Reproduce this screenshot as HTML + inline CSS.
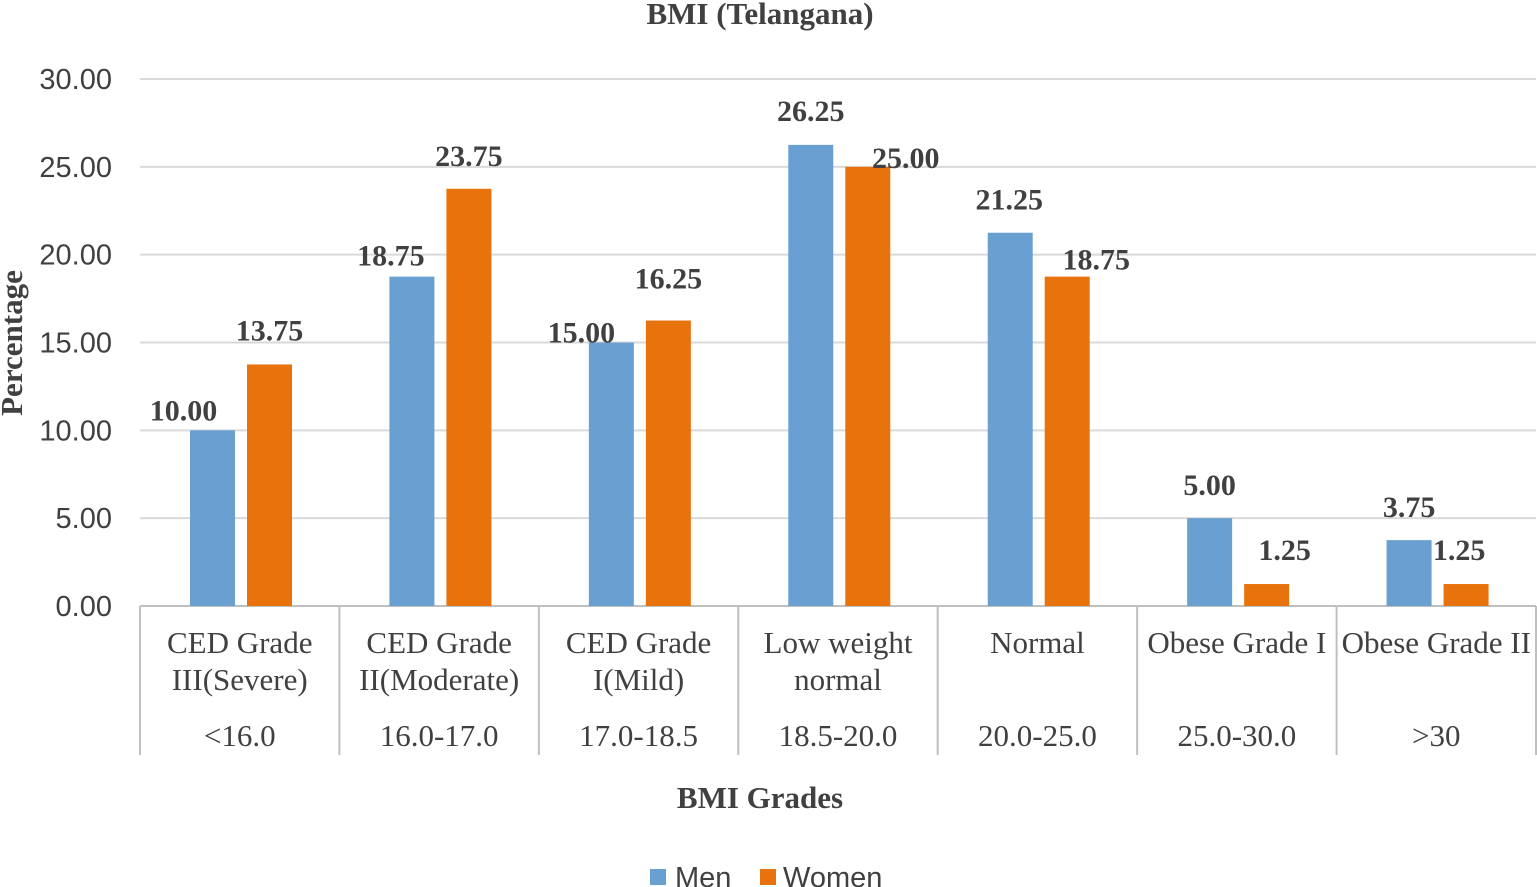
<!DOCTYPE html>
<html><head><meta charset="utf-8"><style>
body{margin:0;background:#fff;}
svg{display:block;}
</style></head><body>
<svg id="chart" width="1537" height="887" xmlns="http://www.w3.org/2000/svg">
<text x="760" y="24" text-anchor="middle" font-family="Liberation Serif, serif" font-weight="bold" font-size="31" fill="#404040">BMI (Telangana)</text>
<text transform="translate(22,343) rotate(-90)" text-anchor="middle" font-family="Liberation Serif, serif" font-weight="bold" font-size="31" fill="#404040">Percentage</text>
<text x="760" y="808" text-anchor="middle" font-family="Liberation Serif, serif" font-weight="bold" font-size="31" fill="#404040">BMI Grades</text>
<g id="grid"></g><g id="bars"></g><g id="labels"></g>
<g>
<rect x="650" y="869" width="16" height="16" fill="#6A9FD2"/>
<text x="675" y="887" font-family="Liberation Sans, sans-serif" font-size="29" fill="#404040">Men</text>
<rect x="760" y="869" width="16" height="16" fill="#E8730C"/>
<text x="783" y="887" font-family="Liberation Sans, sans-serif" font-size="29" fill="#404040">Women</text>
</g>
</svg>
<script>
const categoriesLine1 = ["CED Grade","CED Grade","CED Grade","Low weight","Normal","Obese Grade I","Obese Grade II"];
const categoriesLine2 = ["III(Severe)","II(Moderate)","I(Mild)","normal","","",""];
const ranges = ["<16.0","16.0-17.0","17.0-18.5","18.5-20.0","20.0-25.0","25.0-30.0",">30"];
const men = [10.00,18.75,15.00,26.25,21.25,5.00,3.75];
const women = [13.75,23.75,16.25,25.00,18.75,1.25,1.25];
const yTicks = [0,5,10,15,20,25,30];

// label nudges (styling, not data)
const menLabelDx=[-29,-21,-30,0,-1,0,0], menLabelDy=[-10,-11,0,-24,-23,-23,-23];
const womenLabelDx=[0,0,0,38,29,18,-7], womenLabelDy=[-24,-23,-32,1,-7,-24,-24];

const NS="http://www.w3.org/2000/svg";
const x0=140,x1=1536,y0=606,yTop=79,yMax=30;
const cw=(x1-x0)/categoriesLine1.length;
const y=v=>y0-(v/yMax)*(y0-yTop);
const cx=i=>x0+i*cw;
function mk(tag,attrs,parent,txt){const e=document.createElementNS(NS,tag);for(const k in attrs)e.setAttribute(k,attrs[k]);if(txt!==undefined)e.textContent=txt;document.getElementById(parent).appendChild(e);return e;}
yTicks.forEach(t=>{
 const l=mk('line',{x1:x0,x2:x1,y1:y(t),y2:y(t),stroke:t===0?'#bfbfbf':'#d9d9d9','stroke-width':2},'grid');
 
 
 const tx=mk('text',{x:112,y:y(t)+10,'text-anchor':'end','font-family':'Liberation Sans, sans-serif','font-size':29,fill:'#404040'},'grid',t.toFixed(2));
 
 
});
for(let i=0;i<=categoriesLine1.length;i++){
 const l=mk('line',{x1:cx(i),x2:cx(i),y1:y0,y2:755,stroke:'#bfbfbf','stroke-width':2},'grid');
 
 
}
const F='Liberation Serif, serif';
categoriesLine1.forEach((c,i)=>{
 const m=cx(i)+cw/2;
 const a=mk('text',{x:m,y:653,'text-anchor':'middle','font-family':F,'font-size':31,fill:'#404040'},'labels',c);
 
 
 if(categoriesLine2[i]){const b=mk('text',{x:m,y:690,'text-anchor':'middle','font-family':F,'font-size':31,fill:'#404040'},'labels',categoriesLine2[i]);
 
 }
 const r=mk('text',{x:m,y:746,'text-anchor':'middle','font-family':F,'font-size':31,fill:'#404040'},'labels',ranges[i]);
 
 
 [[men,'#6A9FD2',50,'bar-men',menLabelDx,menLabelDy],[women,'#E8730C',107,'bar-women',womenLabelDx,womenLabelDy]].forEach(([arr,col,off,nm,dx,dy])=>{
  const bx=cx(i)+off,w=45;
  const rc=mk('rect',{x:bx,y:y(arr[i]),width:w,height:y0-y(arr[i]),fill:col},'bars');
  
  
  const v=mk('text',{x:bx+w/2+dx[i],y:y(arr[i])+dy[i],'text-anchor':'middle','font-family':F,'font-weight':'bold','font-size':30,fill:'#404040'},'labels',arr[i].toFixed(2));
  
  
 });
});
</script>
</body></html>
